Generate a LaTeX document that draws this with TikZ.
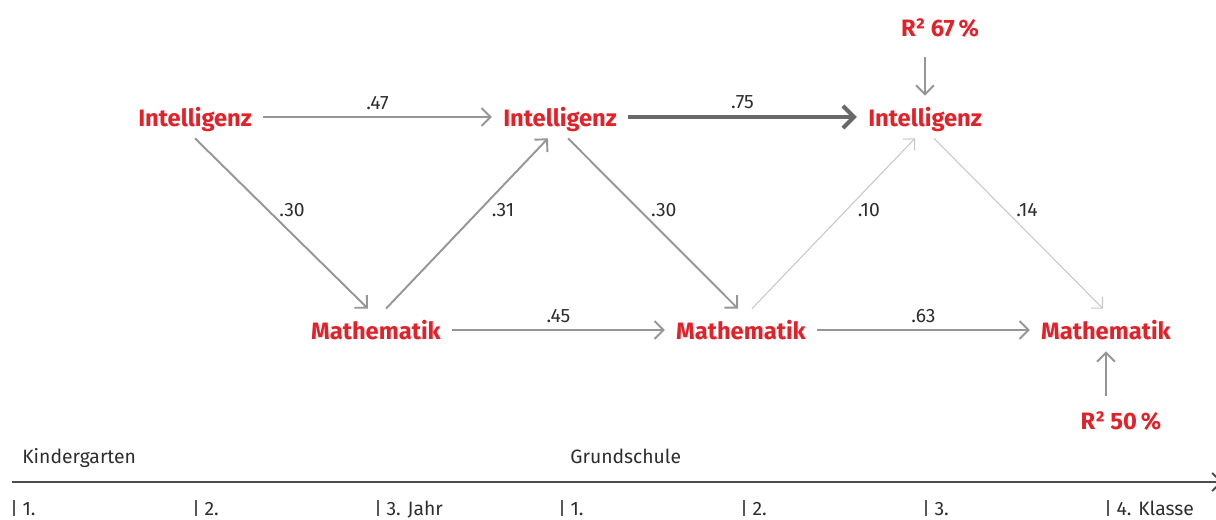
\documentclass[tikz,border=0pt]{standalone}
\usepackage{fontspec}
\setmainfont{Fira Sans}
\usepackage{tikz}
\usetikzlibrary{arrows.meta,positioning,calc}
\definecolor{studieRot}{RGB}{228,32,40}
\definecolor{pfadGrau}{RGB}{150,150,150}
\definecolor{pfadDunkel}{RGB}{105,105,105}
\definecolor{pfadHell}{RGB}{200,200,200}
\definecolor{textGrau}{RGB}{45,45,45}

\begin{document}
\begin{tikzpicture}[
  v/.style={font=\fontsize{13.5}{16}\selectfont\bfseries,text=studieRot,text height=0.48cm,text depth=0.1cm,inner xsep=0.22cm,inner ysep=0.13cm},
  r2/.style={font=\fontsize{13.5}{16}\selectfont\bfseries,text=studieRot,text height=0.36cm,text depth=0.1cm,inner ysep=0.30cm},
  arrow/.style={-{Straight Barb[length=4pt 1,width=8pt 2]},line width=1.1pt,draw=pfadGrau},
  stark/.style={arrow,line width=2.3pt,draw=pfadDunkel},
  schwach/.style={arrow,line width=0.6pt,draw=pfadHell},
  koeff/.style={font=\fontsize{11}{13}\selectfont,text=textGrau},
  zeit/.style={font=\fontsize{11}{13}\selectfont,text=textGrau,inner sep=0pt},
  zeitachse/.style={-{Straight Barb[length=4pt 1,width=8pt 2]},line width=1.1pt,draw=textGrau!85},
  strich/.style={line width=0.6pt,draw=textGrau!80},
  on grid,node distance=7.3cm
]
  \useasboundingbox (0,0) rectangle (24.32,-10.4);

  % Variablen
  \node[v] (int1) at (3.9,-2.34) {Intelligenz};
  \node[v,right=of int1] (int2) {Intelligenz};
  \node[v,right=of int2] (int3) {Intelligenz};
  \node[v,below right=4.26cm and 3.62cm of int1] (mat1) {Mathematik};
  \node[v,right=of mat1] (mat2) {Mathematik};
  \node[v,right=of mat2] (mat3) {Mathematik};
  \node[r2,above right=1.74cm and 0.3cm of int3] (r67) {R²\ 67\,\%};
  \node[r2,below right=1.86cm and 0.3cm of mat3] (r50) {R²\ 50\,\%};

  % Pfade
  \draw[arrow] (int1) -- node[koeff,above] {.47} (int2);
  \draw[stark] (int2) -- node[koeff,above] {.75} (int3);
  \draw[arrow] (mat1) -- node[koeff,above] {.45} (mat2);
  \draw[arrow] (mat2) -- node[koeff,above] {.63} (mat3);
  \draw[arrow] (int1.south) -- node[koeff,pos=0.42,anchor=west,xshift=0.1cm] {.30} ([xshift=-0.16cm]mat1.north);
  \draw[arrow] ([xshift=0.2cm]mat1.north) -- node[koeff,pos=0.58,anchor=west,xshift=0.1cm] {.31} ([xshift=-0.24cm]int2.south);
  \draw[arrow] ([xshift=0.16cm]int2.south) -- node[koeff,pos=0.42,anchor=west,xshift=0.1cm] {.30} ([xshift=-0.06cm]mat2.north);
  \draw[schwach] ([xshift=0.22cm]mat2.north) -- node[koeff,pos=0.58,anchor=west,xshift=0.1cm] {.10} ([xshift=-0.2cm]int3.south);
  \draw[schwach] ([xshift=0.18cm]int3.south) -- node[koeff,pos=0.42,anchor=west,xshift=0.1cm] {.14} ([xshift=-0.06cm]mat3.north);
  \draw[arrow] (r67.south -| int3) -- (int3);
  \draw[arrow] (r50.north -| mat3) -- (mat3);

  % Zeitachse
  \coordinate (zeitStart) at (0.24,-9.64);
  \coordinate (zeitEnde) at (24.45,-9.64);
  \draw[zeitachse] (zeitStart) -- (zeitEnde);
  \node[zeit,anchor=base west] (kiga) at (0.44,-9.28) {Kindergarten};
  \node[zeit,anchor=base west] (gs) at (11.4,-9.28) {Grundschule};
  \foreach \x/\t [count=\i] in {0.28/1., 3.92/2., 7.56/3. Jahr, 11.24/1., 14.88/2., 18.52/3., 22.16/4. Klasse}
    \draw[strich] (\x,-10.0) -- (\x,-10.32) node[zeit,anchor=base west,xshift=0.16cm] (jahr\i) {\t};
\end{tikzpicture}
\end{document}
